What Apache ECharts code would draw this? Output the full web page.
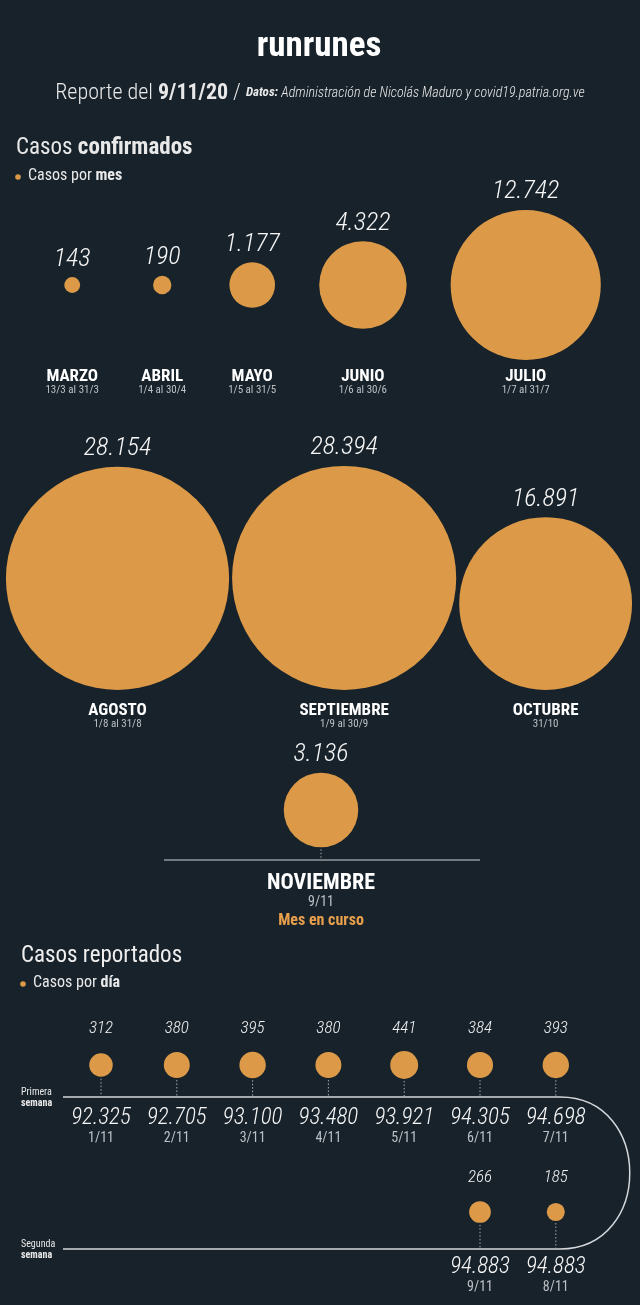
<!DOCTYPE html>
<html>
<head>
<meta charset="utf-8">
<script src="https://cdn.jsdelivr.net/npm/echarts@6/dist/echarts.min.js"></script>
<style>
  html, body { margin: 0; padding: 0; background: #17222b; }
  #main { width: 640px; height: 1305px; }
</style>
</head>
<body>
<div id="main"></div>
<script>
// datos: casos confirmados por mes
const meses = ['MARZO', 'ABRIL', 'MAYO', 'JUNIO', 'JULIO', 'AGOSTO', 'SEPTIEMBRE', 'OCTUBRE', 'NOVIEMBRE'];
const rangos = ['13/3 al 31/3', '1/4 al 30/4', '1/5 al 31/5', '1/6 al 30/6', '1/7 al 31/7', '1/8 al 31/8', '1/9 al 30/9', '31/10', '9/11'];
const casosMes = [143, 190, 1177, 4322, 12742, 28154, 28394, 16891, 3136];
const notaMes = 'Mes en curso';

// datos: casos reportados por dia (noviembre)
const dias = ['1/11', '2/11', '3/11', '4/11', '5/11', '6/11', '7/11', '8/11', '9/11'];
const casosDia = [312, 380, 395, 380, 441, 384, 393, 185, 266];
const acumulado = [92325, 92705, 93100, 93480, 93921, 94305, 94698, 94883, 94883];

const W = 640, H = 1305;
const ORANGE = '#dc9a48';
const FONT = "'Roboto Condensed', 'Liberation Sans Narrow', Roboto, sans-serif";

// area proporcional al numero de casos
const rad = v => 0.665 * Math.sqrt(v);
const fmt = v => String(v).replace(/\B(?=(\d{3})+(?!\d))/g, '.');

// filas de burbujas mensuales
const filas = [
  { idx: [0, 1, 2, 3, 4], gap: 44, minW: 46, shift: 5, y: 285, align: 'middle', labelY: 383 },
  { idx: [5, 6, 7], gap: 3, minW: 0, shift: -1, y: 690, align: 'bottom', labelY: 717 },
  { idx: [8], gap: 0, minW: 0, shift: 1, y: 810, align: 'middle', labelY: 902 }
];

const burbujas = [], etiquetasMes = [], guias = [];
filas.forEach(f => {
  const ws = f.idx.map(i => Math.max(2 * rad(casosMes[i]), f.minW));
  const total = ws.reduce((a, b) => a + b, 0) + f.gap * (ws.length - 1);
  let x = (W - total) / 2 + f.shift;
  f.idx.forEach((i, k) => {
    const cx = x + ws[k] / 2;
    x += ws[k] + f.gap;
    const r = rad(casosMes[i]);
    const cy = f.align === 'bottom' ? f.y - r : f.y;
    burbujas.push([cx, cy, casosMes[i]]);
    etiquetasMes.push([cx, f.labelY, i]);
    if (i === 8) guias.push([cx, cy + r + 2, 860]);
  });
});

// dias: semana 1 de izquierda a derecha, semana 2 vuelve de derecha a izquierda
const paso = 75.8, x0 = 101;
const semanas = [
  { y: 1065, valY: 1029, lineY: 1097, totY: 1127 },
  { y: 1212, valY: 1178, lineY: 1249, totY: 1276 }
];
const burbujasDia = [], valoresDia = [], totalesDia = [];
casosDia.forEach((v, i) => {
  const s = i < 7 ? semanas[0] : semanas[1];
  const slot = i < 7 ? i : 6 - (i - 7);
  const cx = x0 + slot * paso;
  burbujasDia.push([cx, s.y, v]);
  valoresDia.push([cx, s.valY, v]);
  totalesDia.push([cx, s.totY, i]);
  guias.push([cx, s.y + rad(v) + 2, s.lineY]);
});

const chart = echarts.init(document.getElementById('main'));

const txt = (text, x, y, size, extra) => ({
  type: 'text', x: x, y: y,
  style: Object.assign({ text: text, fill: '#e9e9e9', fontFamily: FONT, fontSize: size }, extra || {})
});
const rich2 = (size, color, lh) => ({
  a: { fontSize: size, color: color, fontFamily: FONT, lineHeight: lh },
  b: { fontSize: size, fontWeight: 'bold', color: color, fontFamily: FONT, lineHeight: lh }
});
const invisible = { color: 'rgba(0,0,0,0)', opacity: 1 };

chart.setOption({
  backgroundColor: '#17222b',
  animation: false,
  grid: { left: 0, right: 0, top: 0, bottom: 0 },
  xAxis: { type: 'value', min: 0, max: W, show: false },
  yAxis: { type: 'value', min: 0, max: H, inverse: true, show: false },
  graphic: [
    txt('runrunes', 319, 47, 35, { fill: '#ffffff', fontWeight: 'bold', fontFamily: FONT,
      align: 'center', verticalAlign: 'middle' }),
    txt('{a|Reporte del }{b|9/11/20}{a| / }{c|Datos:}{d| Administración de Nicolás Maduro y covid19.patria.org.ve}',
      320, 93, 22, {
        align: 'center', verticalAlign: 'middle',
        rich: {
          a: { fontSize: 22, fontWeight: 300, color: '#d8d8d8', fontFamily: FONT },
          b: { fontSize: 22, fontWeight: 'bold', color: '#d8d8d8', fontFamily: FONT },
          c: { fontSize: 13, fontWeight: 'bold', fontStyle: 'italic', color: '#d8d8d8', fontFamily: FONT },
          d: { fontSize: 14, fontWeight: 300, fontStyle: 'italic', color: '#d8d8d8', fontFamily: FONT }
        }
      }),
    txt('{a|Casos }{b|confirmados}', 16, 148, 23, { verticalAlign: 'middle', rich: rich2(23, '#efefef') }),
    { type: 'circle', shape: { cx: 18, cy: 177, r: 2.8 }, style: { fill: ORANGE } },
    txt('{a|Casos por }{b|mes}', 28, 176, 16, { verticalAlign: 'middle', rich: rich2(16, '#e6e6e6') }),
    { type: 'line', shape: { x1: 164, y1: 860, x2: 480, y2: 860 },
      style: { stroke: '#cfd3d6', lineWidth: 1 } },
    txt('Casos reportados', 21, 956, 23, { verticalAlign: 'middle', fill: '#efefef' }),
    { type: 'circle', shape: { cx: 23, cy: 984, r: 2.8 }, style: { fill: ORANGE } },
    txt('{a|Casos por }{b|día}', 33, 983, 16, { verticalAlign: 'middle', rich: rich2(16, '#e6e6e6') }),
    // linea de tiempo de las dos semanas
    { type: 'polyline', shape: { points: [[560, 1097], [63, 1097]] },
      style: { fill: null, stroke: '#d4d8db', lineWidth: 1.5 } },
    { type: 'polyline', shape: { points: [[560, 1249], [63, 1249]] },
      style: { fill: null, stroke: '#d4d8db', lineWidth: 1.5 } },
    { type: 'bezierCurve', shape: { x1: 560, y1: 1097, cpx1: 653, cpy1: 1097, cpx2: 653, cpy2: 1249, x2: 560, y2: 1249 },
      style: { fill: null, stroke: '#d4d8db', lineWidth: 1.5 } },
    txt('{a|Primera}\n{b|semana}', 21, 1098, 10, { verticalAlign: 'middle', rich: rich2(10, '#e6e6e6', 11) }),
    txt('{a|Segunda}\n{b|semana}', 21, 1250, 10, { verticalAlign: 'middle', rich: rich2(10, '#e6e6e6', 11) })
  ],
  series: [
    {
      // lineas punteadas de las burbujas a la linea de tiempo
      type: 'custom',
      data: guias,
      encode: { x: 0, y: 1 },
      z: 1,
      renderItem: (params, api) => {
        const a = api.coord([api.value(0), api.value(1)]);
        const b = api.coord([api.value(0), api.value(2)]);
        return { type: 'line', shape: { x1: a[0], y1: a[1], x2: b[0], y2: b[1] },
          style: { stroke: '#a3aaaf', lineWidth: 1, lineDash: [1.5, 2] } };
      }
    },
    {
      name: 'Casos por mes',
      type: 'scatter',
      data: burbujas,
      z: 3,
      symbolSize: v => 2 * rad(v[2]),
      itemStyle: { color: ORANGE, opacity: 1 },
      label: {
        show: true, position: 'top', distance: 5,
        formatter: p => fmt(p.value[2]),
        color: '#f6f6f6', fontSize: 26, fontStyle: 'italic', fontWeight: 300, fontFamily: FONT
      }
    },
    {
      type: 'scatter',
      data: etiquetasMes,
      symbolSize: 0.1,
      itemStyle: invisible,
      label: {
        show: true, position: 'inside',
        formatter: p => {
          const i = p.value[2];
          if (i === 8) return '{N|' + meses[i] + '}\n{D|' + rangos[i] + '}\n{m|' + notaMes + '}';
          return '{n|' + meses[i] + '}\n{d|' + rangos[i] + '}';
        },
        rich: {
          n: { fontSize: 17, lineHeight: 15, fontWeight: 'bold', color: '#ffffff', fontFamily: FONT },
          N: { fontSize: 22, lineHeight: 22, fontWeight: 'bold', color: '#ffffff', fontFamily: FONT },
          d: { fontSize: 11, lineHeight: 13, color: '#bcc1c5', fontFamily: FONT },
          D: { fontSize: 14, lineHeight: 16, color: '#bcc1c5', fontFamily: FONT },
          m: { fontSize: 16, lineHeight: 22, fontWeight: 'bold', color: '#e89f4c', fontFamily: FONT }
        }
      }
    },
    {
      name: 'Casos por día',
      type: 'scatter',
      data: burbujasDia,
      z: 3,
      symbolSize: v => 2 * rad(v[2]),
      itemStyle: { color: ORANGE, opacity: 1 }
    },
    {
      type: 'scatter',
      data: valoresDia,
      symbolSize: 0.1,
      itemStyle: invisible,
      label: {
        show: true, position: 'inside',
        formatter: p => fmt(p.value[2]),
        color: '#f2f2f2', fontSize: 17, fontStyle: 'italic', fontWeight: 300, fontFamily: FONT
      }
    },
    {
      type: 'scatter',
      data: totalesDia,
      symbolSize: 0.1,
      itemStyle: invisible,
      label: {
        show: true, position: 'inside',
        formatter: p => '{a|' + fmt(acumulado[p.value[2]]) + '}\n{b|' + dias[p.value[2]] + '}',
        rich: {
          a: { fontSize: 23, lineHeight: 22, fontStyle: 'italic', fontWeight: 300, color: '#f6f6f6', fontFamily: FONT },
          b: { fontSize: 14, lineHeight: 18, color: '#bcc1c5', fontFamily: FONT }
        }
      }
    }
  ]
});
</script>
</body>
</html>
